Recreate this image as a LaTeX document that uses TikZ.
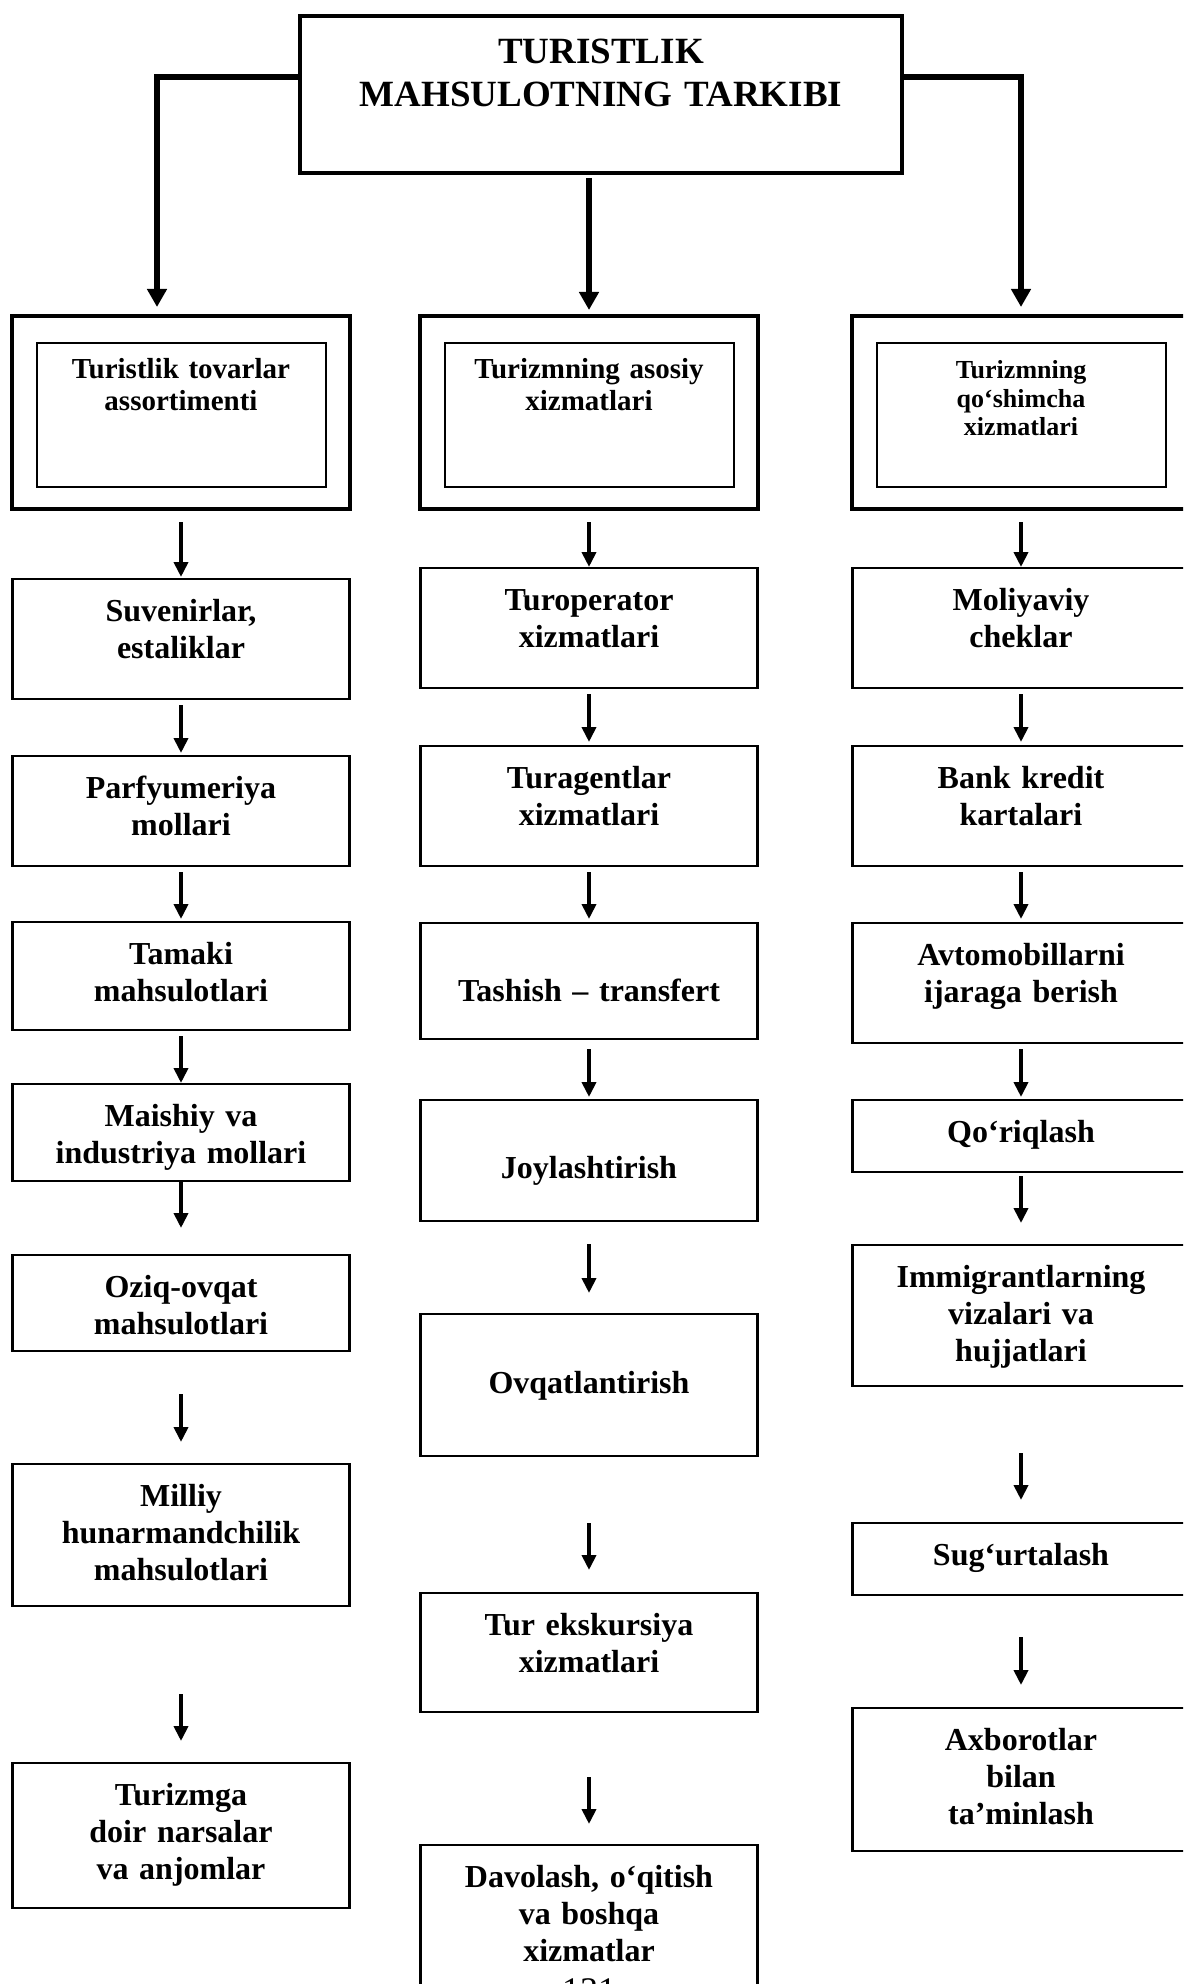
\documentclass[tikz,border=0pt]{standalone}
\usepackage{fontspec}
\setmainfont{Liberation Serif}
\usetikzlibrary{arrows.meta}

\begin{document}
\begin{tikzpicture}[x=0.5pt, y=-0.5pt,
  box/.style={draw, line width=1.2pt, inner sep=0pt, text width=168.5pt, align=center,
    text height=21pt, anchor=north, font=\fontsize{16}{18.5}\selectfont\bfseries},
  outer/.style={draw, line width=2pt, minimum width=169pt, minimum height=96.5pt, anchor=north},
  inner/.style={draw, line width=1pt, inner sep=0pt, text width=144.5pt, align=center,
    text height=18pt, text depth=54pt, anchor=north, font=\fontsize{14.5}{16}\selectfont\bfseries},
  arr/.style={line width=2pt, -{Triangle[length=7.5pt,width=7pt]}},
  toparr/.style={line width=2.8pt, -{Triangle[length=9pt,width=9.5pt]}}]
\useasboundingbox (0,0) rectangle (1183,1984);
\clip (0,0) rectangle (1183,1984);

\node[draw, line width=2pt, inner sep=0pt, text width=301pt, align=center, text height=24pt,
  text depth=54.5pt, anchor=north, font=\fontsize{18.5}{21.5}\selectfont\bfseries] (tarkib) at (601,14)
{TURISTLIK\\MAHSULOTNING TARKIBI};

% three groups
\node[outer] (tov) at (181,314) {};
\node[inner] (tovi) at (181,342) {Turistlik tovarlar\\assortimenti};
\node[outer] (asos) at (589,314) {};
\node[inner] (asosi) at (589,342) {Turizmning asosiy\\xizmatlari};
\node[outer] (qosh) at (1021,314) {};
\node[inner, font=\fontsize{13}{14.2}\selectfont\bfseries] (qoshi) at (1021,342)
{Turizmning\\qo‘shimcha\\xizmatlari};

\coordinate (lk) at (157,77);
\coordinate (rk) at (1021,77);
\draw[toparr, shorten >=3.5pt] (tarkib.west |- lk) -- (lk) -- (tov.north -| lk);
\draw[toparr, shorten <=1.5pt, shorten >=2pt] (tarkib.south -| asos) -- (asos);
\draw[toparr, shorten >=3.5pt] (tarkib.east |- rk) -- (rk) -- (qosh.north -| rk);

% left column
\node[box, text depth=39pt] (suv) at (181,578) {Suvenirlar,\\estaliklar};
\node[box, text depth=34pt] (parf) at (181,755) {Parfyumeriya\\mollari};
\node[box, text depth=33pt] (tam) at (181,921) {Tamaki\\mahsulotlari};
\node[box, text depth=27.5pt] (mai) at (181,1083) {Maishiy va\\industriya mollari};
\node[box, text depth=27pt] (ozi) at (181,1254) {Oziq-ovqat\\mahsulotlari};
\node[box, text depth=50pt] (mil) at (181,1463) {Milliy\\hunarmandchilik\\mahsulotlari};
\node[box, text depth=51.5pt] (jih) at (181,1762) {Turizmga\\doir narsalar\\va anjomlar};
\draw[arr, shorten <=5.5pt, shorten >=0.5pt] (tov) -- (suv);
\draw[arr, shorten <=2.5pt, shorten >=1pt] (suv) -- (parf);
\draw[arr, shorten <=2.5pt, shorten >=1pt] (parf) -- (tam);
\draw[arr, shorten <=2.5pt] (tam) -- (mai);
\draw[arr, shorten >=13pt] (mai) -- (ozi);
\draw[arr, shorten <=21pt, shorten >=10.5pt] (ozi) -- (mil);
\draw[arr, shorten <=43.5pt, shorten >=10.5pt] (mil) -- (jih);

% middle column
\node[box, text depth=39pt] (topr) at (589,567) {Turoperator\\xizmatlari};
\node[box, text depth=39pt] (tagt) at (589,745) {Turagentlar\\xizmatlari};
\node[box, text height=39pt, text depth=19pt] (tash) at (589,922) {Tashish -- transfert};
\node[box, text height=39pt, text depth=21.5pt] (joy) at (589,1099) {Joylashtirish};
\node[box, text height=39.5pt, text depth=31.5pt] (ovq) at (589,1313) {Ovqatlantirish};
\node[box, text depth=38.5pt] (eks) at (589,1592) {Tur ekskursiya\\xizmatlari};
\node[box, text depth=62pt] (dav) at (589,1844) {Davolash, o‘qitish\\va boshqa\\xizmatlar};
\node[anchor=base, font=\fontsize{18}{20}\selectfont] (bet) at (589,2002) {131};
\draw[arr, shorten <=5.5pt] (asos) -- (topr);
\draw[arr, shorten <=2.5pt, shorten >=1.5pt] (topr) -- (tagt);
\draw[arr, shorten <=2.5pt, shorten >=1.5pt] (tagt) -- (tash);
\draw[arr, shorten <=4.5pt, shorten >=1pt] (tash) -- (joy);
\draw[arr, shorten <=11pt, shorten >=10pt] (joy) -- (ovq);
\draw[arr, shorten <=33pt, shorten >=11pt] (ovq) -- (eks);
\draw[arr, shorten <=32pt, shorten >=10pt] (eks) -- (dav);

% right column
\node[box, text depth=39pt] (mol) at (1021,567) {Moliyaviy\\cheklar};
\node[box, text depth=39pt] (bank) at (1021,745) {Bank kredit\\kartalari};
\node[box, text depth=39pt] (avto) at (1021,922) {Avtomobillarni\\ijaraga berish};
\node[box, text depth=15pt] (qor) at (1021,1099) {Qo‘riqlash};
\node[box, text depth=49.5pt] (imm) at (1021,1244) {Immigrantlarning\\vizalari va\\hujjatlari};
\node[box, text depth=15pt] (sug) at (1021,1522) {Sug‘urtalash};
\node[box, text depth=50.5pt] (axb) at (1021,1707) {Axborotlar\\bilan\\ta’minlash};
\draw[arr, shorten <=5.5pt] (qosh) -- (mol);
\draw[arr, shorten <=2.5pt, shorten >=1.5pt] (mol) -- (bank);
\draw[arr, shorten <=2.5pt, shorten >=1.5pt] (bank) -- (avto);
\draw[arr, shorten <=2.5pt, shorten >=1pt] (avto) -- (qor);
\draw[arr, shorten <=1.5pt, shorten >=10.5pt] (qor) -- (imm);
\draw[arr, shorten <=33pt, shorten >=11pt] (imm) -- (sug);
\draw[arr, shorten <=20.5pt, shorten >=11pt] (sug) -- (axb);
\end{tikzpicture}
\end{document}
